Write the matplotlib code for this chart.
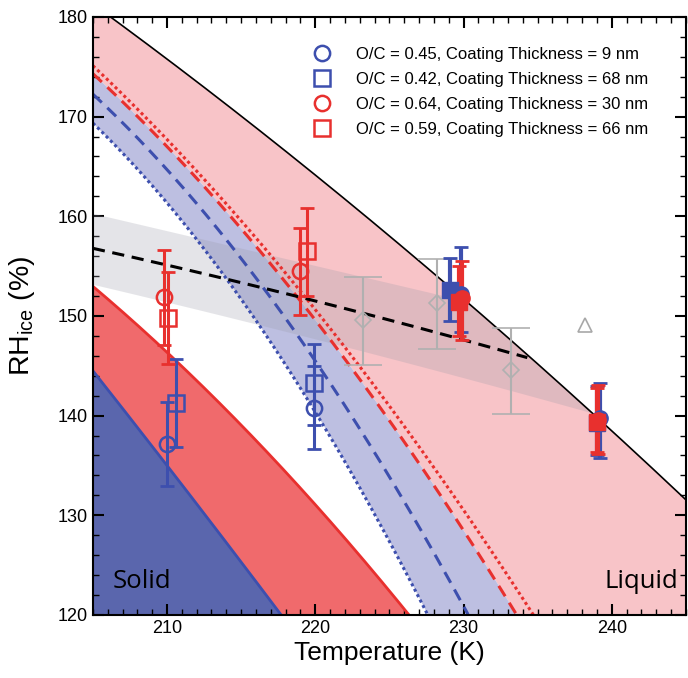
import numpy as np
import matplotlib
matplotlib.use('Agg')
import matplotlib.pyplot as plt
from matplotlib.ticker import MultipleLocator

plt.rcParams['font.family'] = ['Liberation Sans', 'DejaVu Sans']

# ---- boundary curves (T in K, RH_ice in %)
liq_T  = [205.0, 210.0, 215.0, 220.0, 225.0, 230.0, 235.0, 240.0, 245.0]
liq_RH = [181.0, 176.0, 170.3, 164.2, 158.0, 151.6, 145.0, 138.3, 131.8]

rdot_T  = [205.0, 210.0, 215.0, 220.0, 225.0, 230.0, 234.8]
rdot_RH = [174.7, 168.3, 159.8, 150.3, 140.8, 130.4, 120.0]
rdash_T  = [205.0, 210.0, 215.0, 220.0, 225.0, 230.0, 233.6]
rdash_RH = [174.0, 167.5, 158.9, 149.2, 139.4, 128.6, 120.0]
bdash_T  = [205.0, 210.0, 215.0, 220.0, 225.0, 230.3]
bdash_RH = [172.2, 164.9, 155.5, 145.5, 134.0, 120.0]
bdot_T  = [205.0, 210.0, 215.0, 220.0, 224.0, 227.6]
bdot_RH = [169.3, 161.5, 151.5, 140.5, 130.0, 120.0]

rsol_T  = [205.0, 210.0, 215.0, 220.0, 224.0, 226.4]
rsol_RH = [153.0, 146.2, 139.3, 131.0, 124.0, 120.0]
bsol_T  = [205.0, 210.0, 215.0, 217.7]
bsol_RH = [144.5, 135.0, 125.3, 120.0]

band_T  = [205.0, 215.0, 225.6, 238.8, 245.0]
band_hi = [160.3, 156.8, 153.1, 148.5, 146.3]
band_lo = [153.2, 149.5, 145.6, 140.2, 137.6]
fit_T  = [205.0, 215.0, 225.6, 234.3]
fit_RH = [156.8, 153.3, 149.4, 145.8]

# ---- measurements
series = [
    # label, color, marker, open T, RH, lo, hi, filled T, RH, lo, hi
    ("O/C = 0.45, Coating Thickness = 9 nm", '#3d4fae', 'o',
     [210.0, 219.9], [137.2, 140.8], [132.9, 136.7], [141.4, 145.0],
     [229.8, 239.2], [152.2, 139.8], [148.4, 135.7], [156.9, 143.3]),
    ("O/C = 0.42, Coating Thickness = 68 nm", '#3d4fae', 's',
     [210.6, 219.9], [141.3, 143.3], [136.9, 139.1], [145.7, 147.2],
     [229.1, 239.0], [152.6, 139.3], [149.5, 136.0], [155.8, 143.0]),
    ("O/C = 0.64, Coating Thickness = 30 nm", '#e8302e', 'o',
     [209.8, 219.0], [151.9, 154.5], [147.1, 150.1], [156.6, 158.8],
     [229.9, 239.1], [151.8, 139.6], [147.6, 136.1], [155.5, 143.1]),
    ("O/C = 0.59, Coating Thickness = 66 nm", '#e8302e', 's',
     [210.05, 219.45], [149.8, 156.5], [145.2, 152.0], [154.4, 160.8],
     [229.7, 239.0], [151.4, 139.4], [148.0, 136.3], [155.0, 142.8]),
]

gray_T  = [223.2, 228.2, 233.2]
gray_RH = [149.6, 151.3, 144.6]
gray_lo = [145.1, 146.7, 140.2]
gray_hi = [153.9, 155.7, 148.8]
tri_T, tri_RH = [238.2], [149.1]


def smooth(xs, ys, deg=2):
    # smooth rendering through the read-off points
    c = np.polyfit(xs, ys, deg)
    t = np.linspace(xs[0], xs[-1], 300)
    return t, np.polyval(c, t)


#------------------------------------------------
fig = plt.figure(figsize=(6.88, 6.78), dpi=100)
ax = fig.add_axes([0.135, 0.093, 0.862, 0.882])

liq_t, liq_s = smooth(liq_T, liq_RH)
rdot_t, rdot_s = smooth(rdot_T, rdot_RH)
rdash_t, rdash_s = smooth(rdash_T, rdash_RH)
bdash_t, bdash_s = smooth(bdash_T, bdash_RH)
bdot_t, bdot_s = smooth(bdot_T, bdot_RH)
rsol_t, rsol_s = smooth(rsol_T, rsol_RH)
bsol_t, bsol_s = smooth(bsol_T, bsol_RH)
bhi_t, bhi_s = smooth(band_T, band_hi)
blo_t, blo_s = smooth(band_T, band_lo)
fit_t, fit_s = smooth(fit_T, fit_RH)

T = np.linspace(205, 245, 801)
liq = np.interp(T, liq_t, liq_s)
rdash = np.interp(T, rdash_t, rdash_s)
bdot = np.interp(T, bdot_t, bdot_s)
rsol = np.interp(T, rsol_t, rsol_s)
bsol = np.interp(T, bsol_t, bsol_s)
bhi = np.minimum(np.interp(T, bhi_t, bhi_s), liq)
blo = np.minimum(np.interp(T, blo_t, blo_s), liq)

ax.fill_between(T, rdash, liq, color='#f8c4c8', lw=0, zorder=1)
ax.fill_between(T, bdot, rdash, color='#bdbfe1', lw=0, zorder=1)
ax.fill_between(T, bsol, rsol, color='#f06a6c', lw=0, zorder=1)
ax.fill_between(T, 110, bsol, color='#5a66ad', lw=0, zorder=1)
ax.fill_between(T, blo, bhi, color='#9a9aa8', alpha=0.26, lw=0, zorder=2)

ax.plot(liq_t, liq_s, color='black', lw=1.2, zorder=3)
ax.plot(rsol_t, rsol_s, color='#e8302e', lw=2, zorder=3)
ax.plot(bsol_t, bsol_s, color='#3d4fae', lw=2, zorder=3)
ax.plot(rdot_t, rdot_s, color='#e8302e', lw=2.2, ls=(0, (1, 1)), zorder=3)
ax.plot(rdash_t, rdash_s, color='#e8302e', lw=2.2, ls=(0, (4, 2.5)), zorder=3)
ax.plot(bdash_t, bdash_s, color='#3d4fae', lw=2.2, ls=(0, (4, 2.5)), zorder=3)
ax.plot(bdot_t, bdot_s, color='#3d4fae', lw=2.2, ls=(0, (1, 1)), zorder=3)
ax.plot(fit_t, fit_s, color='black', lw=2.2, ls=(0, (4, 2.5)), zorder=3)

# gray literature points
g = np.array(gray_RH)
ax.errorbar(gray_T, gray_RH, yerr=[g - np.array(gray_lo), np.array(gray_hi) - g],
             fmt='D', mfc='none', mec='#b0b0b0', ms=8, ecolor='#b0b0b0',
             elinewidth=1.5, capsize=14, capthick=1.5, mew=1.2, zorder=4)
ax.plot(tri_T, tri_RH, '^', mfc='none', mec='#a8a8a8', ms=10, mew=1.2, zorder=4)

for lab, col, mk, oT, oR, oL, oH, fT, fR, fL, fH in series:
    oR_ = np.array(oR)
    ax.errorbar(oT, oR, yerr=[oR_ - np.array(oL), np.array(oH) - oR_],
                fmt='none', ecolor=col, elinewidth=2.2, capsize=5, capthick=2, zorder=5)
    ax.plot(oT, oR, mk, mfc='none', mec=col, ms=11, mew=1.8, zorder=6, label=lab)
    fR_ = np.array(fR)
    ax.errorbar(fT, fR, yerr=[fR_ - np.array(fL), np.array(fH) - fR_],
                fmt='none', ecolor=col, elinewidth=3, capsize=5, capthick=2, zorder=5)
    ax.plot(fT, fR, mk, color=col, ms=11, zorder=6)

ax.text(206.35, 122.7, 'Solid', fontsize=18.5, family='Open Sans', zorder=7)
ax.text(244.45, 122.7, 'Liquid', fontsize=18.5, family='Open Sans', ha='right', zorder=7)

ax.set_xlim(205, 245)
ax.set_ylim(120, 180)
ax.xaxis.set_major_locator(MultipleLocator(10))
ax.xaxis.set_minor_locator(MultipleLocator(1))
ax.yaxis.set_major_locator(MultipleLocator(10))
ax.yaxis.set_minor_locator(MultipleLocator(2))
ax.tick_params(which='both', direction='in', top=True, right=True, labelsize=13)
ax.tick_params(which='major', length=8, width=1.5)
ax.tick_params(which='minor', length=4, width=1)
for s in ax.spines.values():
    s.set_linewidth(1.5)
    s.set_zorder(8)
ax.set_xlabel('Temperature (K)', fontsize=19, labelpad=3)
ax.set_ylabel('RH$_{\\mathregular{ice}}$ (%)', fontsize=20.5)
ax.yaxis.set_label_coords(-0.095, 0.5)

ax.legend(loc='upper left', bbox_to_anchor=(0.341, 0.966), frameon=False,
          fontsize=12, handletextpad=1.05, labelspacing=0.6, borderaxespad=0.2)

plt.savefig('out.png', dpi=100)
